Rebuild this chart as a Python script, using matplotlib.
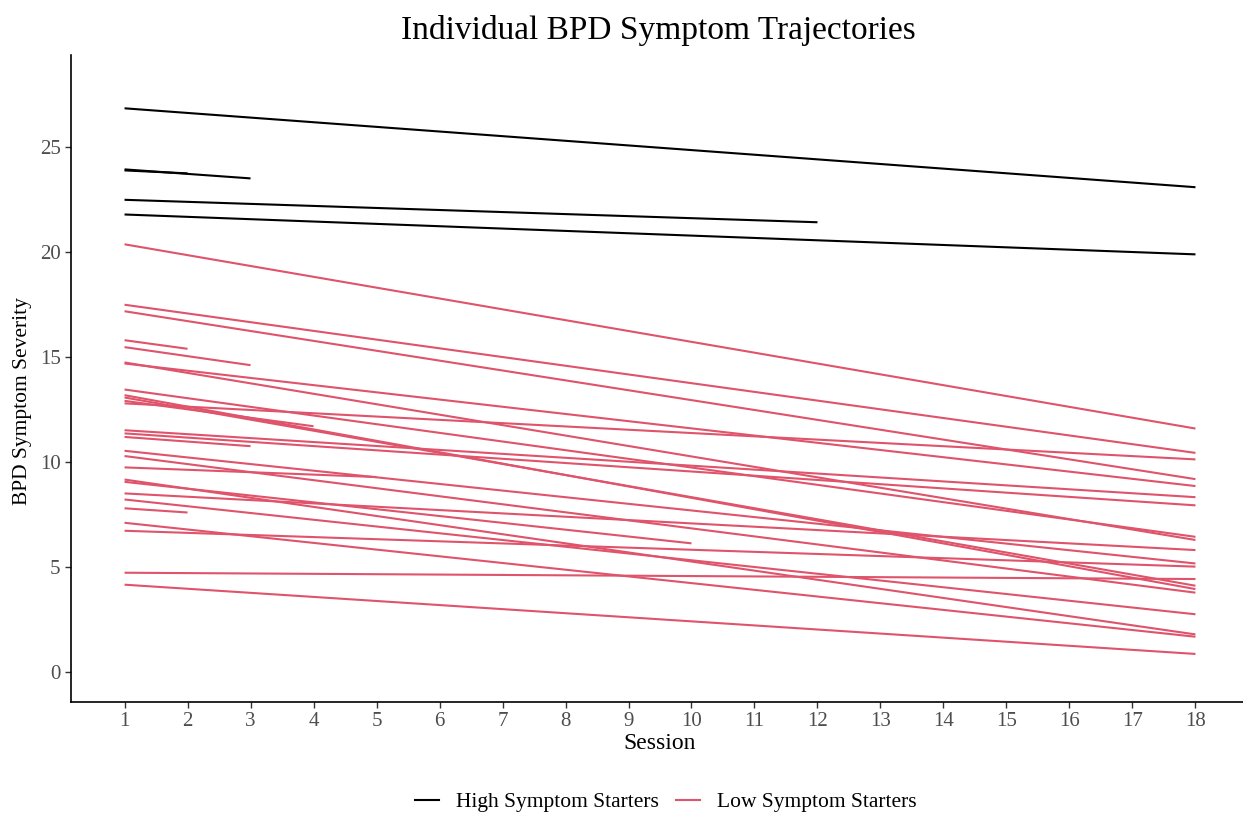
"""
Trajectoires individuelles des symptomes BPD (session 1 -> derniere session)
Deux groupes : High Symptom Starters / Low Symptom Starters
"""

import matplotlib.pyplot as plt

# Donnees : score a la session 1 et a la derniere session
high_start = [26.86, 23.90, 23.95, 22.50, 21.80]
high_last_session = [18, 2, 3, 12, 18]
high_end = [23.10, 23.76, 23.52, 21.43, 19.90]

low_start = [20.38, 17.50, 17.19, 15.81, 15.48, 14.75, 14.70, 13.46, 13.19,
             13.08, 12.92, 12.80, 11.52, 11.37, 11.20, 10.54, 10.29, 9.75,
             9.17, 9.06, 8.51, 8.22, 7.80, 7.11, 6.73, 4.73, 4.16]
low_last_session = [18, 18, 18, 2, 3, 18, 18, 18, 18,
                    18, 4, 18, 18, 18, 3, 18, 18, 5,
                    18, 10, 18, 18, 2, 18, 18, 18, 18]
low_end = [11.60, 10.44, 9.19, 15.40, 14.62, 6.29, 8.86, 6.44, 3.95,
           4.11, 11.71, 10.13, 8.33, 7.94, 10.76, 5.17, 3.78, 9.29,
           1.79, 6.13, 5.81, 2.75, 7.60, 1.68, 5.02, 4.43, 0.86]

sessions = list(range(1, 19))
y_ticks = [0, 5, 10, 15, 20, 25]

COULEUR_HIGH = 'black'
COULEUR_LOW = '#DF536B'
GRIS = '#4D4D4D'

plt.rcParams['font.family'] = ['Liberation Serif', 'DejaVu Serif']

fig = plt.figure(figsize=(12.43, 8.18), dpi=100)
ax = fig.add_axes([71 / 1243, 116 / 818, 1178 / 1243, 647 / 818])

# Lignes du groupe "Low" d'abord, puis "High"
for s0, last, s1 in zip(low_start, low_last_session, low_end):
    ax.plot([1, last], [s0, s1], color=COULEUR_LOW, lw=1.5, solid_capstyle='butt')
for s0, last, s1 in zip(high_start, high_last_session, high_end):
    ax.plot([1, last], [s0, s1], color=COULEUR_HIGH, lw=1.5, solid_capstyle='butt')

ax.set_xlim(0.15, 18.85)
ax.set_ylim(-1.43, 29.4)
ax.set_xticks(sessions)
ax.set_yticks(y_ticks)
ax.tick_params(axis='both', labelsize=15, labelcolor=GRIS, color='#333333',
               length=4, width=1)

for side in ['top', 'right']:
    ax.spines[side].set_visible(False)
for side in ['left', 'bottom']:
    ax.spines[side].set_linewidth(1.2)

ax.set_xlabel('Session', fontsize=17, labelpad=1)
ax.set_ylabel('BPD Symptom Severity', fontsize=15.5)
ax.yaxis.set_label_coords(-0.033, 0.465)
fig.text(658 / 1243, 1 - 30 / 818, 'Individual BPD Symptom Trajectories',
         ha='center', va='center', fontsize=24)

# Legende en bas
h1, = ax.plot([], [], color=COULEUR_HIGH, lw=1.5)
h2, = ax.plot([], [], color=COULEUR_LOW, lw=1.5)
fig.legend([h1, h2], ['High Symptom Starters', 'Low Symptom Starters'],
           loc='center', bbox_to_anchor=(666 / 1243, 1 - 802 / 818), ncol=2,
           frameon=False, fontsize=15.5, handlelength=1.1, handletextpad=0.8,
           columnspacing=0.8)

plt.savefig('out.png', dpi=100)
plt.close()
